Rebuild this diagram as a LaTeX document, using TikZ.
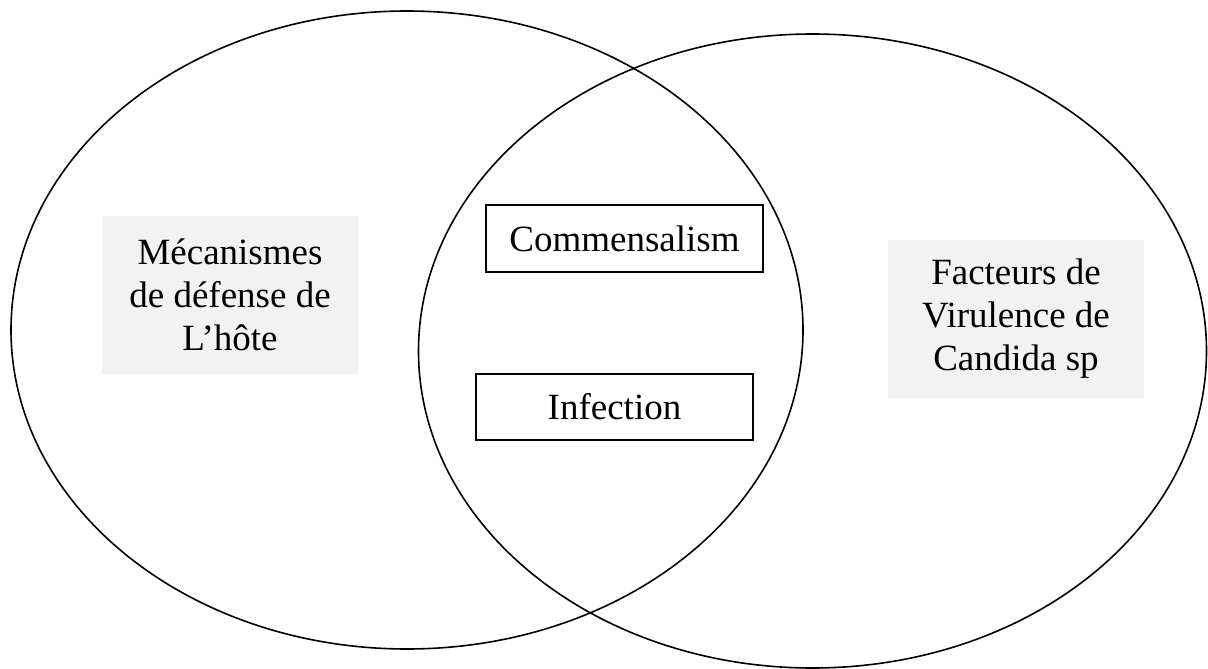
\documentclass[tikz,border=0pt]{standalone}
\usepackage{fontspec}
\setmainfont{Liberation Serif}
\tikzset{
  venn/.style={draw=black, line width=1.6pt},
  graybox/.style={fill=grayfill, draw=none, inner sep=0pt, align=center,
    font=\fontsize{37}{43}\selectfont},
  framebox/.style={draw=black, line width=1.6pt, fill=white, inner sep=0pt,
    font=\fontsize{37}{43}\selectfont}
}
\definecolor{grayfill}{HTML}{F2F2F2}
\begin{document}
\begin{tikzpicture}[x=1pt,y=-1pt]
\useasboundingbox (0,0) rectangle (1208,669);
\draw[venn] (407,330) ellipse [x radius=396, y radius=319];
\draw[venn] (812.5,351) ellipse [x radius=394, y radius=317];
\node[graybox, minimum width=256pt, minimum height=158pt] (host) at (230,295)
  {Mécanismes\\de défense de\\L’hôte};
\node[graybox, minimum width=256pt, minimum height=158pt] (virulence) at (1016,319)
  {Facteurs de\\Virulence de\\Candida sp};
\node[framebox, minimum width=277pt, minimum height=67pt] (comm) at (624.5,238.5)
  {Commensalism};
\node[framebox, minimum width=277pt, minimum height=66pt] (inf) at (614.5,407)
  {Infection};
\end{tikzpicture}
\end{document}
